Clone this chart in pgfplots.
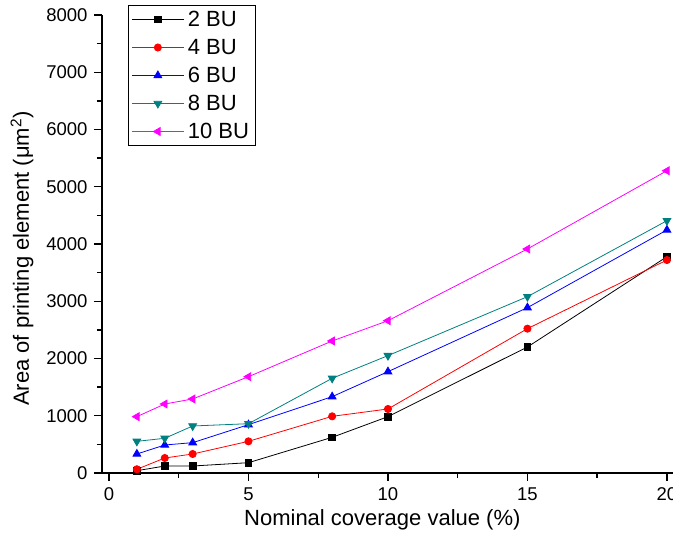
\documentclass[border=0pt]{standalone}
\usepackage{pgfplots}
\pgfplotsset{compat=1.18}
\usepackage{fontspec}
\setmainfont{Liberation Sans}
\definecolor{tealc}{RGB}{0,128,128}
\definecolor{magc}{RGB}{255,0,255}
\definecolor{redc}{RGB}{255,0,0}
\definecolor{bluec}{RGB}{0,0,255}
\begin{document}
\begin{tikzpicture}
\begin{axis}[
  scale only axis,
  width=574.7pt, height=458pt,
  xmin=-0.25, xmax=20.35, ymin=0, ymax=8000,
  axis lines*=left,
  axis line style={line width=1.6pt,-},
  xtick={0,5,10,15,20}, minor xtick={2.5,7.5,12.5,17.5},
  ytick={0,1000,...,8000}, minor ytick={500,1500,...,7500},
  tick align=outside,
  major tick length=8pt, minor tick length=5pt,
  every tick/.style={line width=1.4pt,black},
  /pgf/number format/assume math mode=true,
  /pgf/number format/set thousands separator={},
  scaled y ticks=false,
  tick label style={font=\fontsize{18.5}{22}\selectfont},
  xticklabel style={yshift=-3pt},
  yticklabel style={xshift=-3pt},
  xlabel={Nominal coverage value (\%)},
  ylabel={Area of printing element (μm\textsuperscript{2})},
  label style={font=\fontsize{22}{26}\selectfont},
  xlabel style={xshift=-7pt, yshift=-2pt},
  ylabel style={at={(ticklabel cs:0.468)}, yshift=6pt},
  clip=false,
  legend cell align=left,
  legend style={at={(rel axis cs:0.0452,1.0218)}, anchor=north west,
    font=\fontsize{22}{26}\selectfont, draw=black, line width=1pt,
    inner sep=3pt, row sep=6pt,
    nodes={inner ysep=2pt, inner xsep=3.5pt, text height=16pt, text depth=2pt}},
  legend image code/.code={
    \draw[mark repeat=2,mark phase=2,#1] plot coordinates {(0pt,0pt) (26pt,0pt) (52pt,0pt)};
  },
  every axis plot/.append style={line width=0.8pt},
]
\addplot[black, mark=square*, mark size=3.3pt] coordinates {
(1,40) (2,122) (3,122) (5,180) (8,623) (10,984) (15,2201) (20,3778)};
\addlegendentry{2 BU}
\addplot[redc, mark=*, mark size=3.6pt] coordinates {
(1,65) (2,262) (3,332) (5,553) (8,990) (10,1118) (15,2521) (20,3720)};
\addlegendentry{4 BU}
\addplot[bluec, mark=triangle*, mark size=4.5pt] coordinates {
(1,332) (2,489) (3,530) (5,844) (8,1333) (10,1770) (15,2888) (20,4245)};
\addlegendentry{6 BU}
\addplot[tealc, mark=triangle*, mark size=4.5pt, mark options={rotate=180}] coordinates {
(1,553) (2,606) (3,821) (5,861) (8,1654) (10,2050) (15,3080) (20,4407)};
\addlegendentry{8 BU}
\addplot[magc, mark=triangle*, mark size=4.5pt, mark options={rotate=90}] coordinates {
(1,984) (2,1205) (3,1293) (5,1682) (8,2306) (10,2660) (15,3913) (20,5280)};
\addlegendentry{10 BU}
\end{axis}
\pgfresetboundingbox
\useasboundingbox (-102pt,-72pt) rectangle (571pt,473pt);
\end{tikzpicture}
\end{document}
